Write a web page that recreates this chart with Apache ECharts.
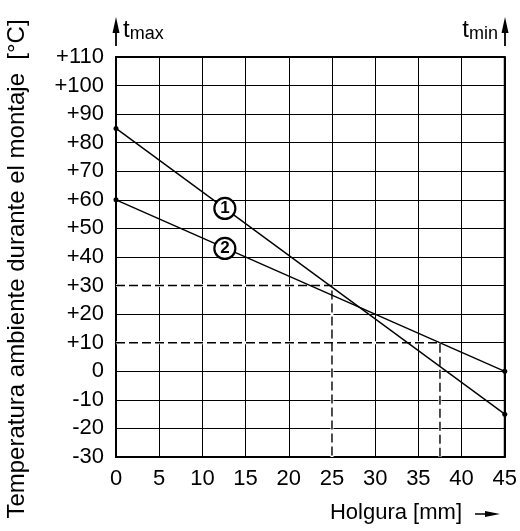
<!DOCTYPE html>
<html>
<head>
<meta charset="utf-8">
<script src="https://cdn.jsdelivr.net/npm/echarts@6/dist/echarts.min.js"></script>
<style>
  html, body { margin: 0; padding: 0; background: #fff; }
  #chart { width: 520px; height: 531px; }
</style>
</head>
<body>
<div id="chart"></div>
<script>
// data
var line1 = [[0, 85], [45, -15]];
var line2 = [[0, 60], [45, 0]];
var dash30 = [[0, 30], [25, 30], [25, -30]];
var dash10 = [[0, 10], [37.5, 10], [37.5, -30]];
var markers = [{ value: [12.6, 57], name: '1' }, { value: [12.6, 43], name: '2' }];

var font = 'Liberation Sans, Arial, sans-serif';
var myChart = echarts.init(document.getElementById('chart'));

function solid(data) {
  return { type: 'line', data: data, symbol: 'circle', symbolSize: 5, itemStyle: { color: '#000' },
    lineStyle: { color: '#000', width: 1.4 }, z: 4 };
}
function dashed(data) {
  return [
    { type: 'line', data: data, symbol: 'none', lineStyle: { color: '#fff', width: 3 }, z: 2 },
    { type: 'line', data: data, symbol: 'none', lineStyle: { color: '#000', width: 1.4, type: [9, 4] }, z: 3 }
  ];
}

var option = {
  animation: false,
  backgroundColor: '#fff',
  grid: { left: 116, right: 15, top: 57, bottom: 74, show: true, borderColor: '#000', borderWidth: 2, backgroundColor: 'transparent' },
  xAxis: {
    type: 'value', min: 0, max: 45, interval: 5,
    axisLine: { onZero: false, lineStyle: { color: '#000', width: 2 } },
    axisTick: { show: false },
    axisLabel: { color: '#000', fontSize: 22, fontFamily: font, margin: 11 },
    splitLine: { show: true, lineStyle: { color: '#000', width: 1 } }
  },
  yAxis: {
    type: 'value', min: -30, max: 110, interval: 10,
    axisLine: { show: true, lineStyle: { color: '#000', width: 2 } },
    axisTick: { show: false },
    axisLabel: {
      color: '#000', fontSize: 22, fontFamily: font, margin: 12,
      formatter: function (v) { return v > 0 ? '+' + v : '' + v; }
    },
    splitLine: { show: true, lineStyle: { color: '#000', width: 1 } }
  },
  series: [
    solid(line1),
    solid(line2)
  ].concat(dashed(dash30), dashed(dash10), [
    {
      type: 'scatter', data: markers, symbol: 'circle', symbolSize: 21,
      itemStyle: { color: '#fff', opacity: 1, borderColor: '#000', borderWidth: 2.2 },
      label: { show: true, position: 'inside', formatter: '{b}', color: '#000', fontSize: 17, fontWeight: 'bold', fontFamily: font },
      emphasis: { disabled: true },
      z: 5
    }
  ]),
  graphic: [
    // eje vertical: nombre
    { type: 'text', x: 5, y: 269, rotation: Math.PI / 2,
      style: { text: 'Temperatura ambiente durante el montaje  [°C]', fontSize: 24, fontFamily: font, fill: '#000', align: 'center', verticalAlign: 'top' } },
    // t max
    { type: 'polygon', shape: { points: [[116, 17], [112.5, 33], [119.5, 33]] }, style: { fill: '#000' } },
    { type: 'line', shape: { x1: 116, y1: 28, x2: 116, y2: 46 }, style: { stroke: '#000', lineWidth: 1.8 } },
    { type: 'text', left: 123, top: 18, style: { text: '{t|t}{s|max}', rich: { t: { fontSize: 24, fontFamily: font, fill: '#000' }, s: { fontSize: 18, fontFamily: font, fill: '#000', padding: [8, 0, 0, 0] } } } },
    // t min
    { type: 'polygon', shape: { points: [[505, 17], [501.5, 33], [508.5, 33]] }, style: { fill: '#000' } },
    { type: 'line', shape: { x1: 505, y1: 28, x2: 505, y2: 46 }, style: { stroke: '#000', lineWidth: 1.8 } },
    { type: 'text', right: 22, top: 18, style: { text: '{t|t}{s|min}', rich: { t: { fontSize: 24, fontFamily: font, fill: '#000' }, s: { fontSize: 18, fontFamily: font, fill: '#000', padding: [8, 0, 0, 0] } } } },
    // eje horizontal: nombre y flecha
    { type: 'text', right: 58, top: 502, style: { text: 'Holgura [mm]', fontSize: 22, fontFamily: font, fill: '#000' } },
    { type: 'line', shape: { x1: 475, y1: 514, x2: 490, y2: 514 }, style: { stroke: '#000', lineWidth: 1.5 } },
    { type: 'polygon', shape: { points: [[500, 514], [485, 511], [485, 517]] }, style: { fill: '#000' } }
  ]
};
myChart.setOption(option);
</script>
</body>
</html>
